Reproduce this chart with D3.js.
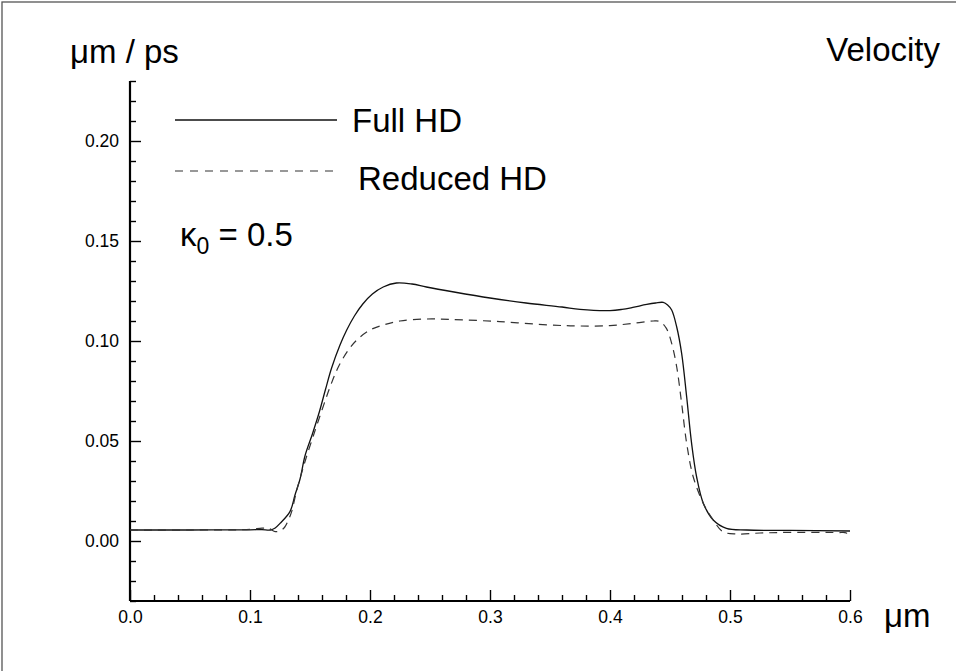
<!DOCTYPE html>
<html>
<head>
<meta charset="utf-8">
<script src="https://cdn.jsdelivr.net/npm/d3@7"></script>
<style>
  html, body { margin: 0; padding: 0; background: #fff; }
  svg { display: block; }
  text { font-family: "Liberation Sans", Arial, Helvetica, sans-serif; fill: #000; }
</style>
</head>
<body>
<svg id="chart" width="956" height="671"></svg>
<script>
// ---- data ----
const fullX = [0, 0.05, 0.1, 0.11, 0.117, 0.121, 0.125, 0.1333, 0.1375, 0.1417, 0.1458, 0.152, 0.158, 0.163, 0.168, 0.175, 0.1806, 0.187, 0.194, 0.202, 0.211, 0.222, 0.235, 0.247, 0.27, 0.3, 0.33, 0.36, 0.375, 0.4, 0.41, 0.419, 0.4306, 0.438, 0.4444, 0.448, 0.4514, 0.4556, 0.4597, 0.4639, 0.468, 0.4722, 0.4778, 0.486, 0.497, 0.514, 0.55, 0.6];
const fullV = [0.0055, 0.0055, 0.0056, 0.0057, 0.0055, 0.0065, 0.0088, 0.0147, 0.023, 0.031, 0.0425, 0.0535, 0.065, 0.076, 0.0865, 0.098, 0.1055, 0.1125, 0.1185, 0.1235, 0.127, 0.129, 0.1285, 0.127, 0.1245, 0.1215, 0.119, 0.117, 0.1158, 0.1152, 0.1158, 0.1168, 0.1183, 0.119, 0.1193, 0.118, 0.1155, 0.107, 0.0938, 0.072, 0.0488, 0.032, 0.0188, 0.0105, 0.0063, 0.0055, 0.0053, 0.005];

const redX = [0, 0.05, 0.1, 0.11, 0.116, 0.121, 0.125, 0.129, 0.132, 0.1347, 0.139, 0.143, 0.147, 0.153, 0.16, 0.1667, 0.1736, 0.182, 0.189, 0.2, 0.211, 0.225, 0.247, 0.267, 0.308, 0.35, 0.375, 0.4, 0.419, 0.436, 0.4417, 0.447, 0.4514, 0.4556, 0.4597, 0.4639, 0.4694, 0.4778, 0.486, 0.494, 0.5056, 0.525, 0.55, 0.59, 0.597, 0.6];
const redV = [0.0055, 0.0055, 0.0058, 0.0064, 0.0062, 0.0047, 0.005, 0.007, 0.0105, 0.0147, 0.0255, 0.034, 0.042, 0.053, 0.0655, 0.077, 0.087, 0.0955, 0.1005, 0.1055, 0.108, 0.11, 0.111, 0.1108, 0.1097, 0.108, 0.1075, 0.1077, 0.1088, 0.110, 0.1097, 0.1063, 0.0988, 0.087, 0.0688, 0.0488, 0.032, 0.0188, 0.0105, 0.0047, 0.0035, 0.004, 0.0043, 0.0042, 0.004, 0.0015];

const xMajorTicks = [0, 0.1, 0.2, 0.3, 0.4, 0.5, 0.6];
const xTickLabels = ["0.0", "0.1", "0.2", "0.3", "0.4", "0.5", "0.6"];
const yMajorTicks = [0, 0.05, 0.10, 0.15, 0.20];
const yTickLabels = ["0.00", "0.05", "0.10", "0.15", "0.20"];
const seriesNames = ["Full HD", "Reduced HD"];

// ---- layout ----
const svg = d3.select("#chart");
const x = d3.scaleLinear().domain([0, 0.6]).range([130, 850]);
const y = d3.scaleLinear().domain([-0.03, 0.23]).range([601, 81]);

// frame
svg.append("rect").attr("x", 2).attr("y", 2).attr("width", 980).attr("height", 700)
  .attr("fill", "none").attr("stroke", "#555").attr("stroke-width", 1.3);

// minor ticks
const xMinor = d3.range(0, 31).map(i => i * 0.02).filter(v => Math.abs(v * 10 - Math.round(v * 10)) > 1e-6);
const yMinor = d3.range(-3, 24).map(i => i / 100).filter(v => Math.abs(v * 20 - Math.round(v * 20)) > 1e-6);

const gx = svg.append("g").attr("transform", `translate(0,${y(-0.03)})`);
gx.call(d3.axisBottom(x).tickValues(xMinor).tickSizeInner(-6).tickSizeOuter(0).tickFormat(""));
gx.call(g => g.select(".domain").remove());
const gx2 = svg.append("g").attr("transform", `translate(0,${y(-0.03)})`);
gx2.call(d3.axisBottom(x).tickValues(xMajorTicks).tickSizeInner(-11).tickSizeOuter(0).tickPadding(10)
  .tickFormat((d, i) => xTickLabels[i]));
gx2.select(".domain").attr("stroke-width", 2.2).attr("d", `M${x(0)},0H${x(0.6)}`);

const gy = svg.append("g").attr("transform", `translate(${x(0)},0)`);
gy.call(d3.axisLeft(y).tickValues(yMinor).tickSizeInner(-6).tickSizeOuter(0).tickFormat(""));
gy.call(g => g.select(".domain").remove());
const gy2 = svg.append("g").attr("transform", `translate(${x(0)},0)`);
gy2.call(d3.axisLeft(y).tickValues(yMajorTicks).tickSizeInner(-11).tickSizeOuter(0).tickPadding(11)
  .tickFormat((d, i) => yTickLabels[i]));
gy2.select(".domain").attr("stroke-width", 2.2).attr("d", `M0,${y(-0.03)}V${y(0.23)}`);

svg.selectAll(".tick line").attr("stroke", "#000").attr("stroke-width", 1.4);
svg.selectAll(".tick text").style("font-size", "17.5px").attr("fill", "#000")
  .style("font-family", "'Liberation Sans', Arial, sans-serif");

// curves
const line = d3.line().x(d => x(d[0])).y(d => y(d[1])).curve(d3.curveCatmullRom.alpha(0.5));
svg.append("path").datum(d3.zip(fullX, fullV)).attr("d", line)
  .attr("fill", "none").attr("stroke", "#111").attr("stroke-width", 1.3);
svg.append("path").datum(d3.zip(redX, redV)).attr("d", line)
  .attr("fill", "none").attr("stroke", "#333").attr("stroke-width", 1.2).attr("stroke-dasharray", "8,6");

// legend
svg.append("line").attr("x1", 175).attr("x2", 337).attr("y1", 120).attr("y2", 120)
  .attr("stroke", "#111").attr("stroke-width", 1.3);
svg.append("line").attr("x1", 175).attr("x2", 335).attr("y1", 171).attr("y2", 171)
  .attr("stroke", "#333").attr("stroke-width", 1.2).attr("stroke-dasharray", "8,7");
svg.append("text").attr("x", 352).attr("y", 132).style("font-size", "33px").text(seriesNames[0]);
svg.append("text").attr("x", 358).attr("y", 190).style("font-size", "33px").text(seriesNames[1]);

// annotations
svg.append("text").attr("x", 70).attr("y", 63).style("font-size", "33px").text("μm / ps");
svg.append("text").attr("x", 940).attr("y", 61).attr("text-anchor", "end").style("font-size", "33px").text("Velocity");
svg.append("text").attr("x", 884).attr("y", 627).style("font-size", "33px").text("μm");
const k = svg.append("text").attr("x", 180).attr("y", 246).style("font-size", "33px");
k.append("tspan").text("κ");
k.append("tspan").attr("dy", 8).style("font-size", "23px").text("0");
k.append("tspan").attr("dy", -8).text(" = 0.5");
</script>
</body>
</html>
